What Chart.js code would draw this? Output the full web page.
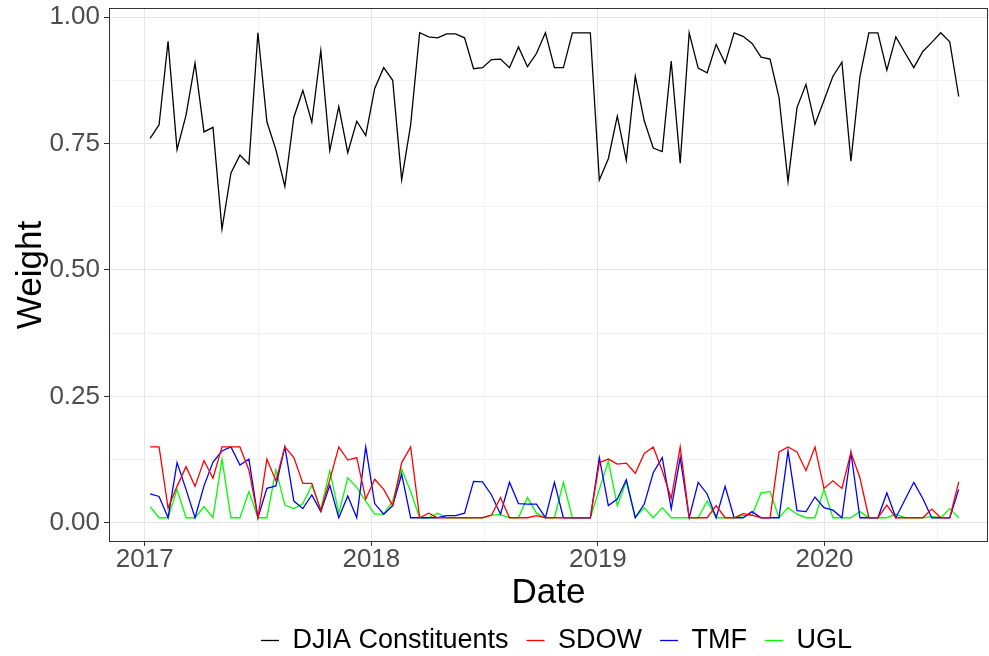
<!DOCTYPE html>
<html>
<head>
<meta charset="utf-8">
<script src="https://cdn.jsdelivr.net/npm/chart.js@4/dist/chart.umd.min.js"></script>
<style>
  html, body { margin: 0; padding: 0; background: #fff; }
  #wrap { width: 989px; height: 656px; }
</style>
</head>
<body>
<div id="wrap"><canvas id="weightChart" width="989" height="656"></canvas></div>
<script>
// rebalance dates: roughly every 10 trading days, as fractional years
const startYear = 2017.0234;
const stepYears = 0.03966;

const seriesNames = ["DJIA Constituents", "SDOW", "TMF", "UGL"];
const seriesColors = ["#000000", "#FF0000", "#0000FF", "#00FF00"];
const yearTicks = [2017, 2018, 2019, 2020];

const djia = [
  0.760, 0.787, 0.952, 0.738, 0.806, 0.909, 0.773, 0.782, 0.581, 0.692,
  0.727, 0.709, 0.969, 0.793, 0.738, 0.665, 0.802, 0.855, 0.792, 0.934,
  0.736, 0.823, 0.732, 0.794, 0.766, 0.859, 0.900, 0.875, 0.678, 0.787,
  0.969, 0.961, 0.959, 0.967, 0.967, 0.959, 0.898, 0.900, 0.916, 0.917,
  0.900, 0.941, 0.902, 0.928, 0.969, 0.900, 0.900, 0.969, 0.969, 0.969,
  0.678, 0.720, 0.804, 0.717, 0.883, 0.795, 0.741, 0.734, 0.913, 0.711,
  0.969, 0.899, 0.890, 0.946, 0.909, 0.969, 0.962, 0.948, 0.921, 0.917,
  0.841, 0.675, 0.821, 0.867, 0.788, 0.835, 0.883, 0.911, 0.715, 0.882,
  0.969, 0.969, 0.895, 0.961, 0.930, 0.900, 0.932, 0.950, 0.969, 0.951,
  0.843
];

const sdow = [
  0.150, 0.150, 0.029, 0.072, 0.111, 0.072, 0.123, 0.088, 0.150, 0.150,
  0.150, 0.104, 0.010, 0.126, 0.083, 0.150, 0.129, 0.078, 0.078, 0.024,
  0.085, 0.150, 0.124, 0.129, 0.047, 0.086, 0.066, 0.034, 0.119, 0.150,
  0.010, 0.019, 0.010, 0.010, 0.010, 0.010, 0.010, 0.010, 0.015, 0.050,
  0.010, 0.010, 0.010, 0.014, 0.010, 0.010, 0.010, 0.010, 0.010, 0.010,
  0.119, 0.126, 0.116, 0.118, 0.098, 0.137, 0.150, 0.103, 0.048, 0.150,
  0.010, 0.010, 0.010, 0.034, 0.010, 0.010, 0.018, 0.015, 0.010, 0.010,
  0.140, 0.150, 0.140, 0.103, 0.150, 0.068, 0.083, 0.068, 0.139, 0.089,
  0.010, 0.010, 0.035, 0.010, 0.010, 0.010, 0.010, 0.027, 0.010, 0.010,
  0.081
];

const tmf = [
  0.057, 0.052, 0.010, 0.119, 0.066, 0.010, 0.073, 0.120, 0.142, 0.150,
  0.114, 0.126, 0.010, 0.068, 0.073, 0.150, 0.043, 0.028, 0.055, 0.022,
  0.074, 0.010, 0.053, 0.010, 0.150, 0.038, 0.017, 0.034, 0.096, 0.010,
  0.010, 0.010, 0.010, 0.014, 0.014, 0.019, 0.082, 0.081, 0.055, 0.017,
  0.080, 0.038, 0.037, 0.037, 0.010, 0.080, 0.010, 0.010, 0.010, 0.010,
  0.129, 0.034, 0.047, 0.085, 0.010, 0.037, 0.099, 0.129, 0.028, 0.129,
  0.010, 0.080, 0.057, 0.010, 0.072, 0.010, 0.010, 0.022, 0.010, 0.010,
  0.010, 0.142, 0.024, 0.022, 0.051, 0.030, 0.025, 0.010, 0.139, 0.010,
  0.010, 0.010, 0.059, 0.010, 0.045, 0.080, 0.048, 0.010, 0.010, 0.010,
  0.066
];

const ugl = [
  0.032, 0.010, 0.010, 0.066, 0.010, 0.010, 0.032, 0.010, 0.126, 0.010,
  0.010, 0.062, 0.010, 0.010, 0.105, 0.035, 0.028, 0.038, 0.074, 0.027,
  0.103, 0.019, 0.089, 0.070, 0.043, 0.017, 0.017, 0.043, 0.106, 0.062,
  0.010, 0.010, 0.019, 0.010, 0.010, 0.010, 0.010, 0.010, 0.015, 0.016,
  0.010, 0.010, 0.050, 0.019, 0.010, 0.010, 0.080, 0.010, 0.010, 0.010,
  0.066, 0.122, 0.034, 0.082, 0.010, 0.030, 0.010, 0.030, 0.010, 0.010,
  0.010, 0.010, 0.043, 0.010, 0.010, 0.010, 0.014, 0.015, 0.059, 0.062,
  0.010, 0.030, 0.017, 0.010, 0.010, 0.066, 0.010, 0.010, 0.010, 0.022,
  0.010, 0.010, 0.010, 0.017, 0.010, 0.010, 0.010, 0.012, 0.010, 0.028,
  0.010
];

const seriesValues = [djia, sdow, tmf, ugl];

function toPoints(values) {
  return values.map((v, i) => ({ x: startYear + i * stepYears, y: v }));
}

const FONT = "'Liberation Sans', Arial, sans-serif";

// panel border (ggplot style frame round the plot area),
// and nudge the legend so it sits under the panel like ggplot does
const panelBorder = {
  id: "panelBorder",
  afterLayout(chart) {
    const lg = chart.legend;
    if (lg) { lg.left += 70; lg.right += 70; }
  },
  afterDraw(chart) {
    const { ctx, chartArea } = chart;
    ctx.save();
    ctx.strokeStyle = "#333333";
    ctx.lineWidth = 1;
    ctx.strokeRect(chartArea.left + 0.5, chartArea.top + 0.5,
      chartArea.right - chartArea.left - 1, chartArea.bottom - chartArea.top - 1);
    ctx.restore();
  }
};

const isMajorY = v => Math.abs(v / 0.25 - Math.round(v / 0.25)) < 1e-6;

new Chart(document.getElementById("weightChart"), {
  type: "line",
  data: {
    datasets: seriesNames.map((name, k) => ({
      label: name,
      data: toPoints(seriesValues[k]),
      borderColor: seriesColors[k],
      backgroundColor: seriesColors[k],
      borderWidth: 1.3,
      pointRadius: 0,
      tension: 0,
      fill: false
    }))
  },
  options: {
    responsive: false,
    animation: false,
    layout: { padding: { top: 8, right: 1, left: 0, bottom: -8 } },
    plugins: {
      tooltip: { enabled: false },
      legend: {
        position: "bottom",
        labels: {
          usePointStyle: true,
          pointStyle: "line",
          pointStyleWidth: 18,
          boxHeight: 2,
          color: "#000",
          padding: 3,
          font: { family: FONT, size: 27, lineHeight: 1 },
          // a bit more room between legend entries
          generateLabels: chart => Chart.defaults.plugins.legend.labels.generateLabels(chart)
            .map(item => ({ ...item, text: item.text + "  " }))
        }
      }
    },
    scales: {
      x: {
        type: "linear",
        min: 2016.842,
        max: 2020.722,
        afterFit: s => { s.height = 82; s.paddingLeft = 0; s.paddingRight = 0; },
        ticks: {
          stepSize: 0.5,
          includeBounds: false,
          autoSkip: false,
          maxRotation: 0,
          padding: -2,
          color: "#4D4D4D",
          font: { family: FONT, size: 26 },
          callback: v => (yearTicks.includes(v) ? String(v) : "")
        },
        grid: {
          color: c => (Number.isInteger(c.tick.value) ? "#E6E6E6" : "#F2F2F2"),
          tickColor: c => (Number.isInteger(c.tick.value) ? "#333333" : "rgba(0,0,0,0)"),
          tickLength: 4,
          lineWidth: 1
        },
        border: { display: false },
        title: {
          display: true,
          text: "Date",
          color: "#000",
          font: { family: FONT, size: 35 },
          padding: { top: 0, bottom: 10 }
        }
      },
      y: {
        type: "linear",
        min: -0.038,
        max: 1.018,
        afterFit: s => { s.width = 109; s.paddingTop = 0; s.paddingBottom = 0; },
        ticks: {
          stepSize: 0.125,
          includeBounds: false,
          autoSkip: false,
          padding: 4,
          color: "#4D4D4D",
          font: { family: FONT, size: 26 },
          callback: v => (isMajorY(v) ? v.toFixed(2) : "")
        },
        grid: {
          color: c => (isMajorY(c.tick.value) ? "#E6E6E6" : "#F2F2F2"),
          tickColor: c => (isMajorY(c.tick.value) ? "#333333" : "rgba(0,0,0,0)"),
          tickLength: 5,
          lineWidth: 1
        },
        border: { display: false },
        title: {
          display: true,
          text: "Weight",
          color: "#000",
          font: { family: FONT, size: 35 },
          padding: { top: 10, bottom: 0 }
        }
      }
    }
  },
  plugins: [panelBorder]
});
</script>
</body>
</html>
